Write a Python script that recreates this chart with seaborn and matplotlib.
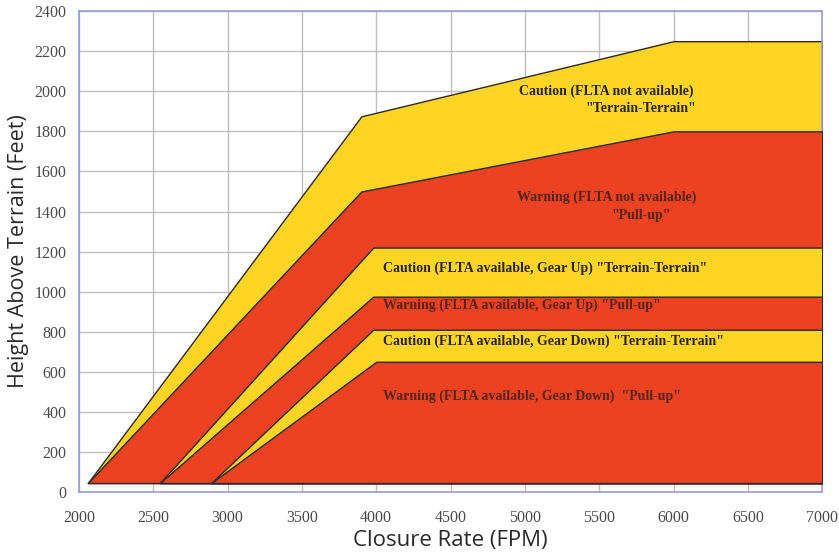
import matplotlib
matplotlib.use("Agg")
import matplotlib.pyplot as plt
import seaborn as sns
import numpy as np

# ---- data ----
base_height = 45
cau_nofl_x = [2060, 3900, 6000, 7000]
cau_nofl_y = [45, 1875, 2250, 2250]
war_nofl_x = [2060, 3900, 6000, 7000]
war_nofl_y = [45, 1500, 1800, 1800]
cau_up_x = [2545, 3980, 7000]
cau_up_y = [45, 1220, 1220]
war_up_x = [2545, 3980, 7000]
war_up_y = [45, 975, 975]
cau_dn_x = [2890, 3980, 7000]
cau_dn_y = [45, 810, 810]
war_dn_x = [2890, 4000, 7000]
war_dn_y = [45, 650, 650]

x_ticks = [2000, 2500, 3000, 3500, 4000, 4500, 5000, 5500, 6000, 6500, 7000]
y_ticks = [0, 200, 400, 600, 800, 1000, 1200, 1400, 1600, 1800, 2000, 2200, 2400]

YELLOW = "#FDD522"
RED = "#EC4221"

sns.set_theme(style="white")
fig = plt.figure(figsize=(8.39, 5.56), dpi=100)
ax = fig.add_axes([0.094, 0.115, 0.886, 0.865])

layers = [
    (cau_nofl_x, cau_nofl_y, YELLOW),
    (war_nofl_x, war_nofl_y, RED),
    (cau_up_x, cau_up_y, YELLOW),
    (war_up_x, war_up_y, RED),
    (cau_dn_x, cau_dn_y, YELLOW),
    (war_dn_x, war_dn_y, RED),
]
for i, (xs, ys, c) in enumerate(layers):
    ax.fill_between(xs, base_height, ys, facecolor=c, edgecolor="#2a2a2a",
                    linewidth=1.0, zorder=2 + i)

ax.set_xlim(2000, 7000)
ax.set_ylim(0, 2400)
ax.set_xticks(x_ticks)
ax.set_yticks(y_ticks)
ax.grid(True, color="#bdbdbd", linewidth=1.0, zorder=0)
ax.set_axisbelow(True)
for s in ax.spines.values():
    s.set_color("#9b9bd0")
    s.set_linewidth(1.2)
ax.tick_params(axis="both", length=0, labelsize=11.5, labelcolor="#4a4a4a")
ax.tick_params(axis="y", pad=9)
ax.tick_params(axis="x", pad=13)
for lab in ax.get_xticklabels() + ax.get_yticklabels():
    lab.set_fontfamily("Liberation Serif")

ax.set_xlabel("Closure Rate (FPM)", fontsize=16, family="Open Sans",
              color="#2a2a2a", labelpad=3)
ax.set_ylabel("Height Above Terrain (Feet)", fontsize=15.5, family="Open Sans",
              color="#2a2a2a", labelpad=4)

tkw = dict(family="Liberation Serif", fontweight="bold", fontsize=10,
           zorder=20, va="center", ha="left")
DARK = "#2b2418"
DARKR = "#5a2418"
ax.text(4960, 2001, "Caution (FLTA not available)", color=DARK, **tkw)
ax.text(5405, 1916, "\"Terrain-Terrain\"", color=DARK, **tkw)
ax.text(4948, 1472, "Warning (FLTA not available)", color=DARKR, **tkw)
ax.text(5580, 1382, "\"Pull-up\"", color=DARKR, **tkw)
ax.text(4046, 1118, "Caution (FLTA available, Gear Up) \"Terrain-Terrain\"", color=DARK, **tkw)
ax.text(4046, 933, "Warning (FLTA available, Gear Up) \"Pull-up\"", color=DARKR, **tkw)
ax.text(4046, 753, "Caution (FLTA available, Gear Down) \"Terrain-Terrain\"", color=DARK, **tkw)
ax.text(4046, 479, "Warning (FLTA available, Gear Down)  \"Pull-up\"", color=DARKR, **tkw)

fig.savefig("out.png", dpi=100)
